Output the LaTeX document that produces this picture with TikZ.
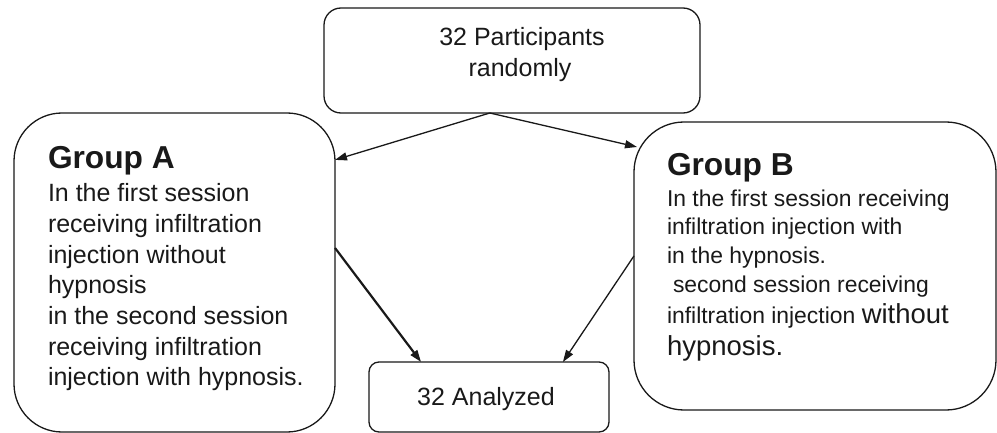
\documentclass[tikz,border=0pt]{standalone}
\usepackage{fontspec}
\setmainfont{Liberation Sans}
\usetikzlibrary{arrows.meta,calc}
\begin{document}
\begin{tikzpicture}[x=1pt,y=-1pt,
  box/.style={draw=black!90,line width=1.3pt,inner sep=0pt,outer sep=0pt},
  txt/.style={anchor=base west,inner sep=0pt,outer sep=0pt,text=black!90},
  ctxt/.style={anchor=base,inner sep=0pt,outer sep=0pt,text=black!90},
  conn/.style={draw=black!90,line width=1.3pt,-{Triangle[length=12pt,width=8pt]}},
  fa/.style={font=\fontsize{25}{30}\selectfont},
  fb/.style={font=\fontsize{22.9}{28}\selectfont},
  ft/.style={font=\fontsize{31.7}{34}\selectfont\bfseries}]
\useasboundingbox (0,0) rectangle (997,433);
% boxes
\node[box,minimum width=376pt,minimum height=105pt,rounded corners=17pt] (top) at (512,60.5) {};
\node[box,minimum width=321pt,minimum height=319pt,rounded corners=48pt] (A) at (174.5,272.5) {};
\node[box,minimum width=362pt,minimum height=288pt,rounded corners=50pt] (B) at (815,266) {};
\node[box,minimum width=240pt,minimum height=70pt,rounded corners=10pt] (an) at (489,397) {};
% top text
\node[ctxt,fa] (t1) at (522,46) {32 Participants};
\node[ctxt,fa] (t2) at (520,77) {randomly};
\node[ctxt,fa] (an1) at (486,405) {32 Analyzed};
% group A
\node[txt,ft] (Ah) at (48,169) {Group A};
\node[txt,fa] (A1) at (48,202) {In the first session};
\node[txt,fa] (A2) at (48,232.6) {receiving infiltration};
\node[txt,fa] (A3) at (48,263.2) {injection without};
\node[txt,fa] (A4) at (48,293.8) {hypnosis};
\node[txt,fa] (A5) at (48,324.4) {in the second session};
\node[txt,fa] (A6) at (48,355) {receiving infiltration};
\node[txt,fa] (A7) at (48,385.6) {injection with hypnosis.};
% group B
\node[txt,ft] (Bh) at (667,176) {Group B};
\node[txt,fb] (B1) at (667,207) {In the first session receiving};
\node[txt,fb] (B2) at (667,235) {infiltration injection with};
\node[txt,fb] (B3) at (667,263) {in the hypnosis.};
\node[txt,fb] (B4) at (673,292) {second session receiving};
\node[txt,fb] (B5) at (667,323) {infiltration injection {\fontsize{27.5}{30}\selectfont without}};
\node[txt,font=\fontsize{27.5}{30}\selectfont] (B6) at (667,355) {hypnosis.};
% connectors
\coordinate (ts) at ($(top.south west)!0.441!(top.south east)$);
\draw[conn] (ts) -- ($(A.north east)!0.147!(A.south east)$);
\draw[conn] (ts) -- ($(B.north west)+(3,25)$);
\draw[conn,line width=2.2pt] ($(A.north east)!0.423!(A.south east)$) -- ($(an.north west)!0.217!(an.north east)$);
\draw[conn] ($(B.north west)!0.465!(B.south west)$) -- ($(an.north west)!0.808!(an.north east)$);
\end{tikzpicture}
\end{document}
